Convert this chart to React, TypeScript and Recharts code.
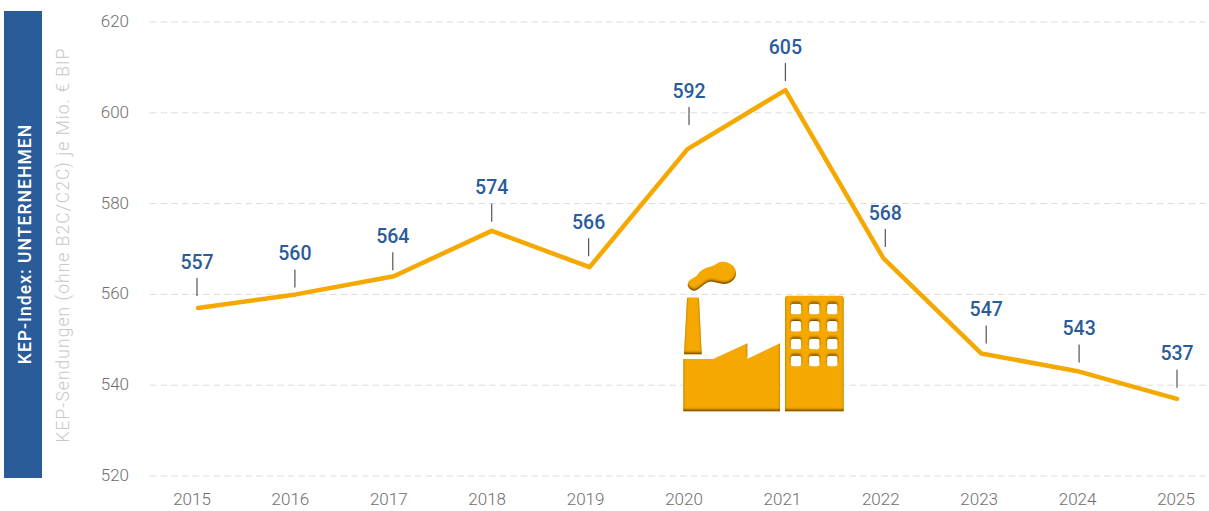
import { LineChart, Line, XAxis, YAxis, CartesianGrid } from 'recharts';

const years = ['2015', '2016', '2017', '2018', '2019', '2020', '2021', '2022', '2023', '2024', '2025'];
const values = [557, 560, 564, 574, 566, 592, 605, 568, 547, 543, 537];
const yTicks = [520, 540, 560, 580, 600, 620];

const chartData = years.map((year, i) => ({ year, value: values[i] }));

// Hand placed callouts: sideways shift and gap between point and tick, one per year
const calloutDx = [-1, -1, -1, 0, -1, 1.5, 0, 2, 5, 0, 0];
const calloutGap = [12, 7, 6, 9, 11, 24, 9, 11, 10, 9, 11];

const smokeOutline = [
  [687.7, 283.3], [690, 279.3], [696.7, 276.7], [699.3, 271.7], [706.7, 267.3], [713.3, 266],
  [718.3, 262.3], [725, 261.3], [733.3, 265], [737, 273.3], [734, 280], [726.7, 284.3],
  [718.3, 283.3], [710, 280.7], [703.3, 285], [696.7, 290.7], [691.7, 290.7], [687.7, 286.7],
];

const FONT = 'Roboto, sans-serif';
const ORANGE = '#f5a800';
const BLUE = '#2b5c9a';

// Year labels drift slightly against the points in the original
function YearTick({ x, y, payload, index }: any) {
  return (
    <text x={x - 6 + index * 0.5} y={y + 5} textAnchor="middle" dominantBaseline="central"
      style={{ fontFamily: FONT, fontSize: 17, fontWeight: 300, fill: '#6e6e6e' }}>
      {payload.value}
    </text>
  );
}

function ValueTick({ x, y, payload }: any) {
  return (
    <text x={x} y={y - 1} textAnchor="end" dominantBaseline="central"
      style={{ fontFamily: FONT, fontSize: 17, fontWeight: 300, fill: '#6e6e6e' }}>
      {payload.value}
    </text>
  );
}

// Callout: short tick above the point plus the value
function ValueLabel({ x, y, value, index }: any) {
  const lx = x + calloutDx[index];
  const bottom = y - calloutGap[index];
  return (
    <g>
      <line x1={lx} x2={lx} y1={bottom - 18} y2={bottom} stroke="#555" strokeWidth={1.2} />
      <text x={lx} y={bottom - 34} textAnchor="middle" dominantBaseline="central"
        style={{ fontFamily: FONT, fontSize: 19.5, fontWeight: 500, fill: BLUE }}>
        {value}
      </text>
    </g>
  );
}

function smoothPath(pts: number[][]) {
  const mid = (a: number[], b: number[]) => [(a[0] + b[0]) / 2, (a[1] + b[1]) / 2];
  const start = mid(pts[pts.length - 1], pts[0]);
  let d = `M${start[0]} ${start[1]}`;
  pts.forEach((p, i) => {
    const m = mid(p, pts[(i + 1) % pts.length]);
    d += `Q${p[0]} ${p[1]} ${m[0]} ${m[1]}`;
  });
  return d + 'z';
}

function Overlay() {
  const winX = [796, 814.3, 832.3];
  const winY = [309, 326.3, 344, 361];
  const windows = winY.flatMap(wy => winX.map(wx => {
    const l = wx - 5.2, t = wy - 5.2, s = 10.4, r = 2.5;
    return `M${l + r} ${t}h${s - 2 * r}a${r} ${r} 0 0 1 ${r} ${r}v${s - 2 * r}a${r} ${r} 0 0 1 -${r} ${r}h-${s - 2 * r}a${r} ${r} 0 0 1 -${r} -${r}v-${s - 2 * r}a${r} ${r} 0 0 1 ${r} -${r}z`;
  })).join('');
  return (
    <svg width={1209} height={511} style={{ position: 'absolute', left: 0, top: 0, pointerEvents: 'none' }}>
      <defs>
        <filter id="bevel" x="-10%" y="-10%" width="120%" height="120%">
          <feGaussianBlur in="SourceAlpha" stdDeviation="1.1" result="blur" />
          <feOffset in="blur" dy="-1.7" result="off" />
          <feComposite in="SourceAlpha" in2="off" operator="out" result="edge" />
          <feFlood floodColor="#6b4700" result="dark" />
          <feComposite in="dark" in2="edge" operator="in" result="shade" />
          <feMerge>
            <feMergeNode in="SourceGraphic" />
            <feMergeNode in="shade" />
          </feMerge>
        </filter>
      </defs>

      <rect x={4} y={11} width={38} height={467} fill={BLUE} />
      <text transform="translate(25,244) rotate(-90)" textAnchor="middle" dominantBaseline="central"
        style={{ fontFamily: FONT, fontSize: 17.5, fontWeight: 500, fill: '#fff', letterSpacing: '0.06em' }}>
        KEP-Index: UNTERNEHMEN
      </text>
      <text transform="translate(63,245) rotate(-90)" textAnchor="middle" dominantBaseline="central"
        style={{ fontFamily: FONT, fontSize: 17.5, fontWeight: 300, fill: '#c8c8c8', letterSpacing: '0.06em' }}>
        KEP-Sendungen (ohne B2C/C2C) je Mio. € BIP
      </text>

      {/* Factory icon */}
      <g fill={ORANGE} filter="url(#bevel)">
        <path d={smoothPath(smokeOutline)} />
      </g>
      <g fill={ORANGE} filter="url(#bevel)">
        <path d="M687 298.500q0-1 1-1h10q1 0 1 1l2.700 55.800h-17.700z" />
        <path d="M683.300 359h30l34-15.700v15.700l32.700-15.700v68h-96.700z" />
        <path fillRule="evenodd" d={`M788 295.700h52.700q3 0 3 3v112.600h-58.700v-112.600q0-3 3-3z${windows}`} />
      </g>
    </svg>
  );
}

export default function App() {
  return (
    <div style={{ position: 'absolute', left: 0, top: 0, width: 1209, height: 511, background: '#fff', overflow: 'hidden' }}>
      <LineChart width={1209} height={511} data={chartData} margin={{ top: 22, right: 0, bottom: 0, left: 0 }}>
        <CartesianGrid vertical={false} stroke="#dcdcdc" strokeDasharray="6.5 4.1" />
        <XAxis dataKey="year" height={35} axisLine={false} tickLine={false} padding={{ left: 48, right: 32 }}
          interval={0} tick={<YearTick />} tickMargin={12} />
        <YAxis width={150} domain={[520, 620]} ticks={yTicks} axisLine={false} tickLine={false}
          tick={<ValueTick />} tickMargin={15} />
        <Line dataKey="value" type="linear" stroke={ORANGE} strokeWidth={4.5} strokeLinecap="round" strokeLinejoin="round"
          dot={false} isAnimationActive={false} label={<ValueLabel />} />
      </LineChart>
      <Overlay />
    </div>
  );
}
